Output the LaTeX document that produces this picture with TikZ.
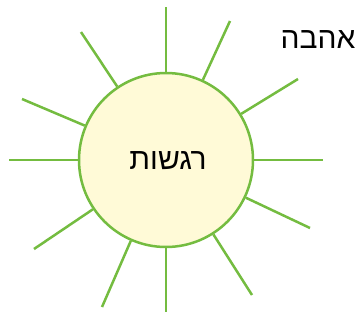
\documentclass[tikz,border=0pt]{standalone}
\usepackage{fontspec}
\newfontfamily\hebfont[Script=Hebrew]{Liberation Sans}
\TeXXeTstate=1
\definecolor{raygreen}{RGB}{116,188,64}
\definecolor{sunfill}{RGB}{255,250,215}
\begin{document}
\begin{tikzpicture}[x=1pt,y=-1pt,
  ray/.style={draw=raygreen,line width=2.5pt},
  sun/.style={circle,draw=raygreen,line width=2.5pt,fill=sunfill,minimum size=174pt,inner sep=0pt},
  lbl/.style={font=\hebfont\fontsize{30}{34}\selectfont,text=black,inner sep=0pt}]
\useasboundingbox (0,0) rectangle (359,322);
\node[sun] (c) at (166,160) {};
\node[lbl] (t) at (168,161) {\beginR רגשות\endR};
\node[lbl] (l) at (318,40) {\beginR אהבה\endR};
\coordinate (o1) at (166,7);
\coordinate (o2) at (230,21);
\coordinate (o3) at (298,79);
\coordinate (o4) at (323,160);
\coordinate (o5) at (310,228);
\coordinate (o6) at (252,295);
\coordinate (o7) at (166,312);
\coordinate (o8) at (102,307);
\coordinate (o9) at (34,249);
\coordinate (o10) at (9,160);
\coordinate (o11) at (22,99);
\coordinate (o12) at (81,32);
\foreach \i in {1,...,12} {\draw[ray] (c) -- (o\i);}
\end{tikzpicture}
\end{document}
